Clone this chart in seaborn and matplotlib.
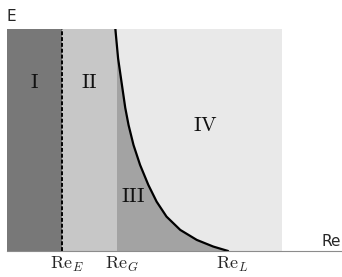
import matplotlib
matplotlib.use("Agg")
import matplotlib.pyplot as plt
import matplotlib.transforms as mtransforms
import seaborn as sns
import pandas as pd

# Regime map: E against Re, four regions split by Re_E, Re_G and a curve to Re_L
re_bounds = [1.0, 2.0, 4.0]            # Re_E, Re_G, Re_L
re_labels = [r"$\mathrm{Re}_E$", r"$\mathrm{Re}_G$", r"$\mathrm{Re}_L$"]
re_max = 5.0                            # right end of the shaded map
e_max = 4.0

# boundary curve between regions III and IV
curve_re = [1.97, 2.02, 2.09, 2.15, 2.21, 2.30, 2.42, 2.57, 2.72, 2.90, 3.15, 3.45, 3.75, 4.02]
curve_e = [4.00, 3.47, 2.99, 2.58, 2.27, 1.91, 1.55, 1.19, 0.89, 0.62, 0.38, 0.20, 0.08, 0.00]

region_names = ["I", "II", "III", "IV"]
region_re = [0.5, 1.5, 2.3, 3.6]
region_e = [3.05, 3.05, 1.0, 2.27]

sns.set_style("white")
plt.rcParams["mathtext.fontset"] = "cm"
plt.rcParams["font.family"] = ["DejaVu Sans"]

curve = pd.DataFrame({"Re": curve_re, "E": curve_e})

fig = plt.figure(figsize=(3.42, 2.77), dpi=100)
ax = fig.add_axes([7 / 342, 26 / 277, 335 / 342, 222 / 277])

# shaded regions
ax.axvspan(re_bounds[1], re_max, color="#e9e9e9", lw=0, zorder=0)
ax.fill_between(curve["Re"], 0, curve["E"], color="#a3a3a3", lw=0, zorder=1)
ax.axvspan(0, re_bounds[0], color="#787878", lw=0, zorder=2)
ax.axvspan(re_bounds[0], re_bounds[1], color="#c7c7c7", lw=0, zorder=2)

ax.axvline(re_bounds[0], color="black", ls=(0, (2, 1)), lw=1.4, zorder=3)
sns.lineplot(data=curve, x="Re", y="E", color="black", lw=1.6, sort=False,
             estimator=None, ax=ax, zorder=4)

for name, x, y in zip(region_names, region_re, region_e):
    ax.text(x, y, r"$\mathrm{%s}$" % name, fontsize=15, ha="center", va="center",
            color="#111111", zorder=5)

ax.set_xlim(0, 335 / 55)
ax.set_ylim(0, e_max)
ax.set_xticks(re_bounds)
ax.set_xticklabels(re_labels, fontsize=13)
ax.set_yticks([])
ax.tick_params(axis="x", length=0, pad=3)
ax.set_xlabel("")
ax.set_ylabel("")

# labels in the source sit a little to the right of their marks
shift = mtransforms.ScaledTranslation(5 / 100, 0, fig.dpi_scale_trans)
for lab in ax.get_xticklabels():
    lab.set_transform(lab.get_transform() + shift)

for side in ["top", "right", "left"]:
    ax.spines[side].set_visible(False)
ax.spines["bottom"].set_color("#8c8c8c")
ax.spines["bottom"].set_linewidth(0.8)
ax.spines["bottom"].set_zorder(6)

ax.text(0.0, 1.055, "E", transform=ax.transAxes, fontsize=11, ha="left", va="center")
ax.text(0.998, 0.045, "Re", transform=ax.transAxes, fontsize=11, ha="right", va="center")

fig.savefig("out.png", dpi=100)
